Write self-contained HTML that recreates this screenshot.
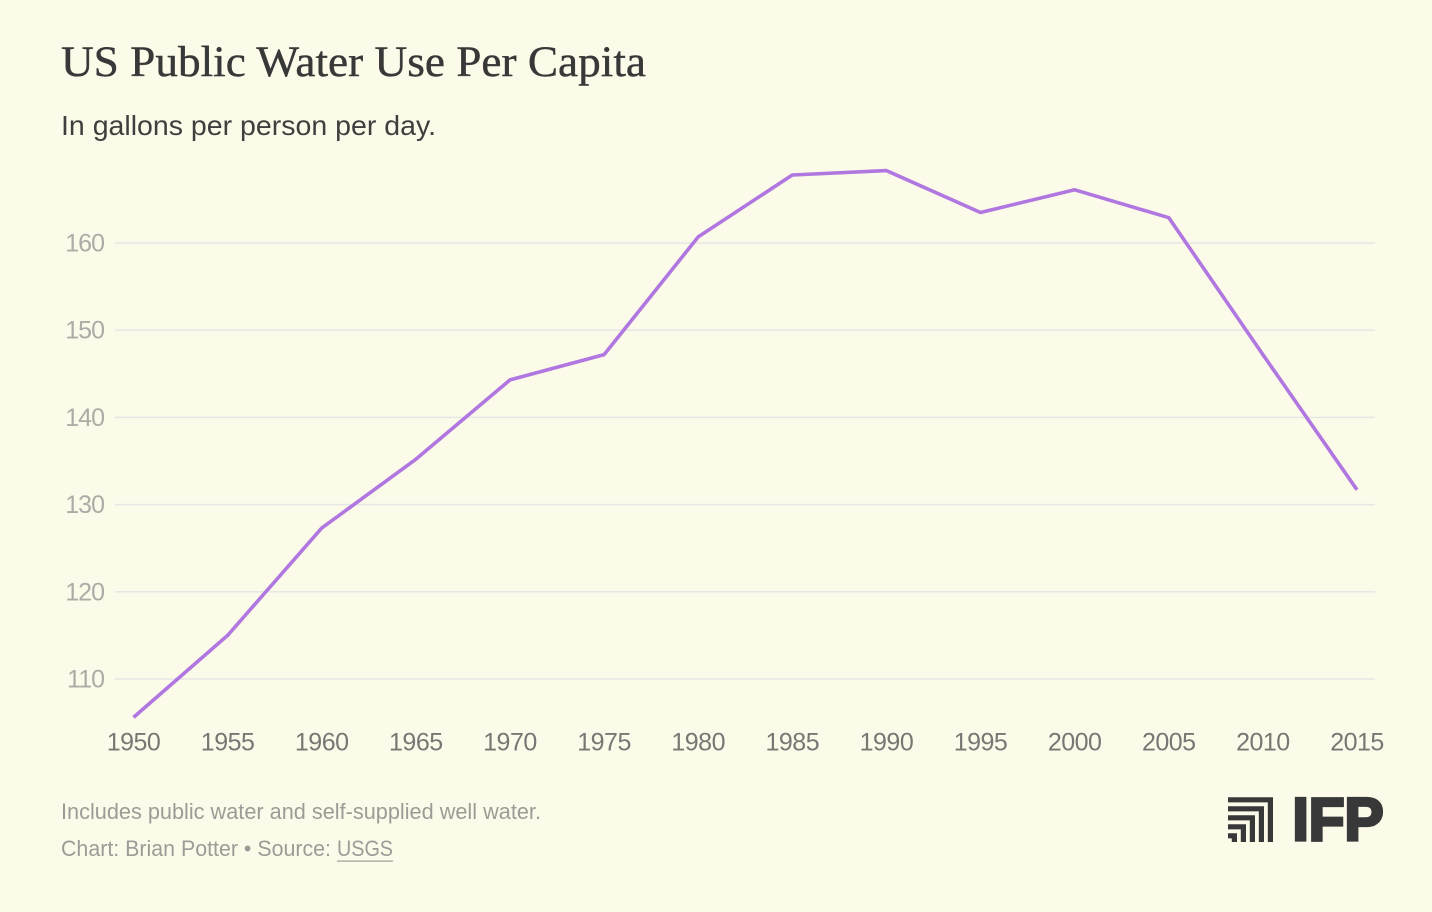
<!DOCTYPE html>
<html lang="en">
<head>
<meta charset="utf-8">
<title>US Public Water Use Per Capita</title>
<style>
html,body{margin:0;padding:0;background:#fcfbe9;width:1432px;height:912px;overflow:hidden}
svg{display:block}
text{font-family:"Liberation Sans",sans-serif}
</style>
</head>
<body>
<svg id="chart" width="1432" height="912" viewBox="0 0 1432 912" xmlns="http://www.w3.org/2000/svg">
  <rect x="0" y="0" width="1432" height="912" fill="#fcfbe9"/>
  <text x="61" y="76" textLength="585" lengthAdjust="spacingAndGlyphs" style="font-family:'Liberation Serif',serif" font-size="43" fill="#383838" stroke="#383838" stroke-width="0.4">US Public Water Use Per Capita</text>
  <text x="61" y="135" textLength="375" lengthAdjust="spacingAndGlyphs" font-size="28" fill="#3f3f3d">In gallons per person per day.</text>
  <g id="grid"></g>
  <g id="yticks"></g>
  <g id="xticks"></g>
  <polyline id="line" fill="none" stroke="#b177e0" stroke-width="3.6" stroke-linejoin="round"/>
  <text x="61" y="819" textLength="480" lengthAdjust="spacingAndGlyphs" font-size="22" fill="#9c9c97">Includes public water and self-supplied well water.</text>
  <text x="61" y="856" textLength="270" lengthAdjust="spacingAndGlyphs" font-size="22" fill="#9c9c97">Chart: Brian Potter • Source:</text>
  <text x="337" y="856" textLength="56" lengthAdjust="spacingAndGlyphs" font-size="22" fill="#9c9c97">USGS</text>
  <rect x="337" y="860.5" width="56" height="1.2" fill="#9c9c97"/>
  <g>
    <g fill="none" stroke="#383838" stroke-width="5.2">
      <path d="M1228 799.8H1270.4V842"/>
      <path d="M1228 808.8H1261.4V842"/>
      <path d="M1228 817.8H1252.4V842"/>
      <path d="M1228 826.8H1243.4V842"/>
      <path d="M1228 835.8H1234.4V842"/>
    </g>
    <text x="1292.5" y="840" textLength="91" lengthAdjust="spacingAndGlyphs" font-size="60" font-weight="700" fill="#383838" stroke="#383838" stroke-width="3.2">IFP</text>
  </g>
</svg>
<script>
const years = [1950,1955,1960,1965,1970,1975,1980,1985,1990,1995,2000,2005,2010,2015];
const gallons = [105.6,115.0,127.3,135.2,144.3,147.2,160.7,167.8,168.3,163.5,166.1,162.9,147.2,131.7];
const yTickValues = [110,120,130,140,150,160];

const svgNS = 'http://www.w3.org/2000/svg';
function xScale(year){ return 133.5 + (year - 1950) * (1357 - 133.5) / 65; }
function yScale(value){ return 679 + (value - 110) * (243 - 679) / 50; }

const grid = document.getElementById('grid');
const yticks = document.getElementById('yticks');
const xticks = document.getElementById('xticks');

yTickValues.forEach(function(v){
  const l = document.createElementNS(svgNS,'rect');
  
  
  l.setAttribute('x', 115);
  l.setAttribute('y', yScale(v) - 0.75);
  l.setAttribute('width', 1260);
  l.setAttribute('height', 1.5);
  l.setAttribute('fill', '#e6e6e6');
  grid.appendChild(l);

  const t = document.createElementNS(svgNS,'text');
  
  
  t.setAttribute('x', 104);
  t.setAttribute('y', yScale(v) + 8.5);
  t.setAttribute('text-anchor', 'end');
  t.setAttribute('font-size', '25');
  t.setAttribute('letter-spacing', '-1');
  t.setAttribute('fill', '#acaca6');
  t.textContent = v;
  yticks.appendChild(t);
});

years.forEach(function(y){
  const t = document.createElementNS(svgNS,'text');
  
  
  t.setAttribute('x', xScale(y));
  t.setAttribute('y', 750.5);
  t.setAttribute('text-anchor', 'middle');
  t.setAttribute('font-size', '25');
  t.setAttribute('letter-spacing', '-0.5');
  t.setAttribute('fill', '#777774');
  t.textContent = y;
  xticks.appendChild(t);
});

document.getElementById('line').setAttribute('points', years.map(function(y,i){
  return xScale(y).toFixed(1) + ',' + yScale(gallons[i]).toFixed(1);
}).join(' '));
</script>
</body>
</html>
